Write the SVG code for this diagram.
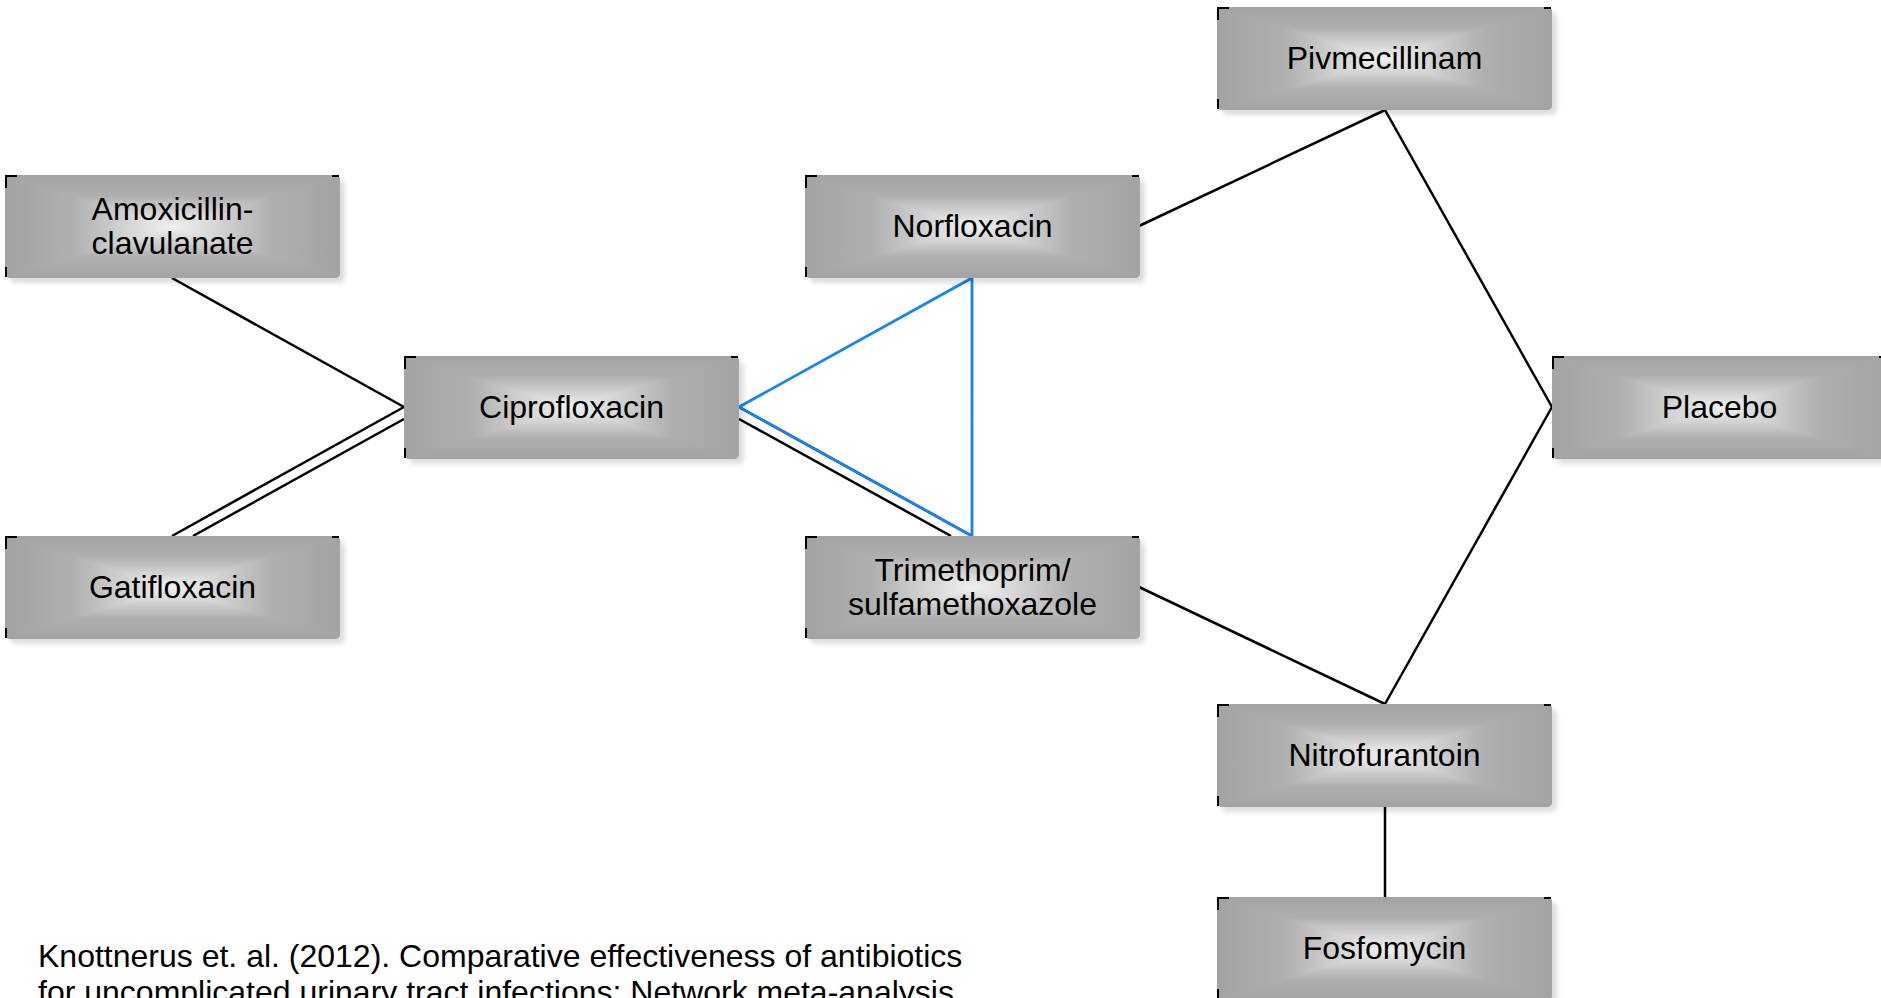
<svg xmlns="http://www.w3.org/2000/svg" xmlns:xlink="http://www.w3.org/1999/xlink" width="1881" height="998" viewBox="0 0 1881 998">
<style>
.lbl{font-family:"Liberation Sans",Arial,sans-serif;font-size:32px;fill:#000;text-anchor:middle}
.note{font-family:"Liberation Sans",Arial,sans-serif;font-size:32px;fill:#000}
.edge{stroke:#000;stroke-width:2.5;fill:none}
.blue{stroke:#1883f4;stroke-width:2.8;fill:none;stroke-linejoin:miter}
.mark{stroke:#000;stroke-width:2;fill:none}
</style>
<defs>
<linearGradient id="gT" x1="0" y1="0" x2="0" y2="1"><stop offset="0" stop-color="#a3a3a3"/><stop offset="0.4" stop-color="#afafaf"/><stop offset="0.75" stop-color="#d6d6d6"/><stop offset="1" stop-color="#f0f0f0"/></linearGradient>
<linearGradient id="gB" x1="0" y1="1" x2="0" y2="0"><stop offset="0" stop-color="#a3a3a3"/><stop offset="0.4" stop-color="#afafaf"/><stop offset="0.75" stop-color="#d6d6d6"/><stop offset="1" stop-color="#f0f0f0"/></linearGradient>
<linearGradient id="gL" x1="0" y1="0" x2="1" y2="0"><stop offset="0" stop-color="#a3a3a3"/><stop offset="0.4" stop-color="#afafaf"/><stop offset="0.75" stop-color="#d6d6d6"/><stop offset="1" stop-color="#f0f0f0"/></linearGradient>
<linearGradient id="gR" x1="1" y1="0" x2="0" y2="0"><stop offset="0" stop-color="#a3a3a3"/><stop offset="0.4" stop-color="#afafaf"/><stop offset="0.75" stop-color="#d6d6d6"/><stop offset="1" stop-color="#f0f0f0"/></linearGradient>
<clipPath id="round" clipPathUnits="userSpaceOnUse"><rect x="0" y="0" width="335" height="103" rx="5"/></clipPath>
<filter id="sh" x="-10%" y="-20%" width="120%" height="140%"><feGaussianBlur stdDeviation="2.5"/></filter>
<g id="box">
<rect x="5" y="5" width="335" height="103" rx="5" fill="#000" opacity="0.13" filter="url(#sh)"/>
<g clip-path="url(#round)">
<rect x="0" y="0" width="335" height="103" fill="#b4b4b4"/>
<polygon points="0,0 0,103 167.5,51.5" fill="url(#gL)" stroke="url(#gL)" stroke-width="1.2"/>
<polygon points="335,0 335,103 167.5,51.5" fill="url(#gR)" stroke="url(#gR)" stroke-width="1.2"/>
<polygon points="0,0 335,0 167.5,51.5" fill="url(#gT)"/>
<polygon points="0,103 335,103 167.5,51.5" fill="url(#gB)"/>
</g>
<path class="mark" d="M1,13 V1 H12 M327,1 H334 M1,92 V102"/>
</g>
</defs>
<rect width="1881" height="998" fill="#fff"/>
<g id="connectors">
<line class="edge" x1="172" y1="278" x2="404" y2="407"/>
<line class="edge" x1="172" y1="536" x2="404" y2="407"/>
<line class="edge" x1="193" y1="536" x2="404" y2="419"/>
<line class="edge" x1="739" y1="407" x2="972" y2="536"/>
<line class="edge" x1="739" y1="419" x2="951" y2="536"/>
<polygon class="blue" points="739,407 972,278 972,536"/>
<line class="edge" x1="1139" y1="226" x2="1385" y2="110"/>
<line class="edge" x1="1385" y1="110" x2="1552" y2="407"/>
<line class="edge" x1="1139" y1="587" x2="1385" y2="704"/>
<line class="edge" x1="1385" y1="704" x2="1552" y2="407"/>
<line class="edge" x1="1385" y1="807" x2="1385" y2="897"/>
</g>
<g id="node-amoxicillin" transform="translate(5,175)"><use href="#box"/><text class="lbl" x="167.5" y="45">Amoxicillin-</text><text class="lbl" x="167.5" y="79">clavulanate</text></g>
<g id="node-gatifloxacin" transform="translate(5,536)"><use href="#box"/><text class="lbl" x="167.5" y="62">Gatifloxacin</text></g>
<g id="node-ciprofloxacin" transform="translate(404,356)"><use href="#box"/><text class="lbl" x="167.5" y="62">Ciprofloxacin</text></g>
<g id="node-norfloxacin" transform="translate(805,175)"><use href="#box"/><text class="lbl" x="167.5" y="62">Norfloxacin</text></g>
<g id="node-trimethoprim" transform="translate(805,536)"><use href="#box"/><text class="lbl" x="167.5" y="45">Trimethoprim/</text><text class="lbl" x="167.5" y="79">sulfamethoxazole</text></g>
<g id="node-pivmecillinam" transform="translate(1217,7)"><use href="#box"/><text class="lbl" x="167.5" y="62">Pivmecillinam</text></g>
<g id="node-placebo" transform="translate(1552,356)"><use href="#box"/><text class="lbl" x="167.5" y="62">Placebo</text></g>
<g id="node-nitrofurantoin" transform="translate(1217,704)"><use href="#box"/><text class="lbl" x="167.5" y="62">Nitrofurantoin</text></g>
<g id="node-fosfomycin" transform="translate(1217,897)"><use href="#box"/><text class="lbl" x="167.5" y="62">Fosfomycin</text></g>
<g id="footnote">
<text class="note" x="38" y="967">Knottnerus et. al. (2012). Comparative effectiveness of antibiotics</text>
<text class="note" x="38" y="1003">for uncomplicated urinary tract infections: Network meta-analysis</text>
</g>
</svg>
